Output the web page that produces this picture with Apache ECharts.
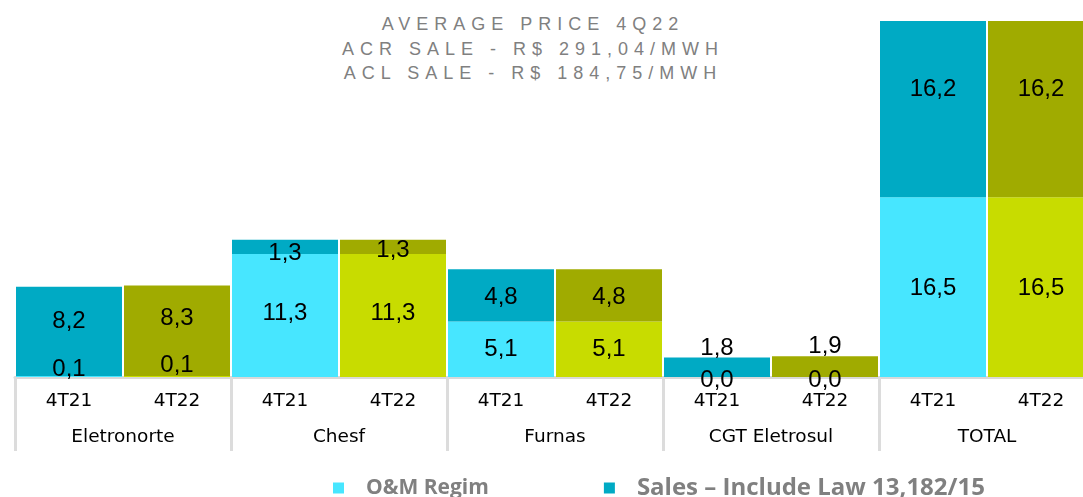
<!DOCTYPE html>
<html>
<head>
<meta charset="utf-8">
<script src="https://cdn.jsdelivr.net/npm/echarts@6/dist/echarts.min.js"></script>
<style>
  html, body { margin: 0; padding: 0; background: #fff; overflow: hidden; }
  #main { width: 1083px; height: 497px; }
  #title {
    position: absolute; left: 0; top: 12px; width: 1066px;
    text-align: center; font-family: "Liberation Sans", Arial, sans-serif;
    font-size: 18px; line-height: 24.5px; letter-spacing: 6px; color: #808080;
  }
</style>
</head>
<body>
<div id="title">AVERAGE PRICE 4Q22<br>ACR SALE - R$ 291,04/MWH<br>ACL SALE - R$ 184,75/MWH</div>
<div id="main"></div>
<script>
var groups = ["Eletronorte", "Chesf", "Furnas", "CGT Eletrosul", "TOTAL"];
var periods = ["4T21", "4T22", "4T21", "4T22", "4T21", "4T22", "4T21", "4T22", "4T21", "4T22"];
var omRegim = [0.1, 0.1, 11.3, 11.3, 5.1, 5.1, 0.0, 0.0, 16.5, 16.5];
var sales = [8.2, 8.3, 1.3, 1.3, 4.8, 4.8, 1.8, 1.9, 16.2, 16.2];

// label nudges (px) so the numbers sit where the original slide has them
var omOffset = [-7, -11, -2, -2, 0, 0, 3, 3, 1, 1];
var salesOffset = [-10, -12, 6, 3, 2, 2, -19, -20, -20, -20];

var omColors = { "4T21": "#47E6FF", "4T22": "#C8DC00" };
var salesColors = { "4T21": "#00AAC4", "4T22": "#A0AB00" };

function fmt(p) {
  return p.value.toFixed(1).replace(".", ",");
}

function buildData(values, colors, offsets) {
  return values.map(function (v, i) {
    return {
      value: v,
      itemStyle: { color: colors[periods[i]] },
      label: { offset: [0, offsets[i]] }
    };
  });
}

var chart = echarts.init(document.getElementById("main"));

var labelStyle = {
  show: true,
  position: "inside",
  formatter: fmt,
  color: "#000",
  fontFamily: "Liberation Sans",
  fontSize: 24
};

var option = {
  animation: false,
  grid: {
    left: 15, width: 1080, top: 21, bottom: 120,
    containLabel: false,
    outerBoundsMode: "none"
  },
  legend: {
    left: 328,
    top: 471,
    itemWidth: 11,
    itemHeight: 11,
    itemGap: 115,
    icon: "rect",
    textStyle: {
      color: "#808080",
      fontFamily: "Open Sans",
      fontWeight: "bold",
      padding: [0, 0, 0, 17]
    },
    data: [
      { name: "O&M Regim", textStyle: { fontSize: 21 } },
      { name: "Sales \u2013 Include Law 13,182/15", textStyle: { fontSize: 24 } }
    ]
  },
  xAxis: [
    {
      type: "category",
      data: periods,
      position: "bottom",
      offset: 0,
      axisLine: { show: true, lineStyle: { color: "#D9D9D9", width: 3 } },
      axisTick: { show: false },
      axisLabel: {
        interval: 0,
        margin: 15,
        color: "#000",
        fontFamily: "DejaVu Sans",
        fontSize: 18.5
      }
    },
    {
      type: "category",
      data: groups,
      position: "bottom",
      offset: 0,
      axisLine: { show: false },
      axisTick: {
        show: true,
        length: 74,
        lineStyle: { color: "#DCDCDC", width: 3 }
      },
      axisLabel: {
        interval: 0,
        margin: 51,
        color: "#000",
        fontFamily: "DejaVu Sans",
        fontSize: 18.5
      }
    }
  ],
  yAxis: {
    type: "value",
    min: 0,
    max: function (v) { return v.max; },
    show: false,
    splitLine: { show: false }
  },
  series: [
    {
      name: "O&M Regim",
      type: "bar",
      stack: "total",
      barWidth: 106,
      itemStyle: { color: "#47E6FF" },
      label: labelStyle,
      data: buildData(omRegim, omColors, omOffset)
    },
    {
      name: "Sales \u2013 Include Law 13,182/15",
      type: "bar",
      stack: "total",
      barWidth: 106,
      itemStyle: { color: "#00AAC4" },
      label: labelStyle,
      data: buildData(sales, salesColors, salesOffset)
    }
  ]
};

chart.setOption(option);
</script>
</body>
</html>
